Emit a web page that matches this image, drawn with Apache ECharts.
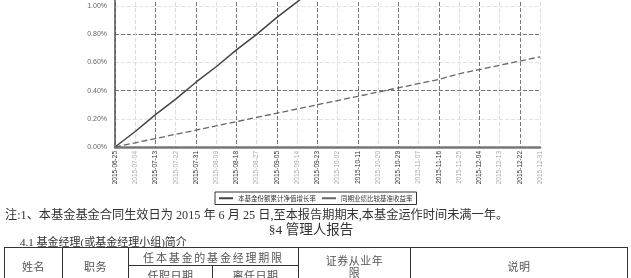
<!DOCTYPE html>
<html>
<head>
<meta charset="utf-8">
<script src="https://cdn.jsdelivr.net/npm/echarts@6/dist/echarts.min.js"></script>
<style>
  body { margin: 0; width: 631px; height: 278px; overflow: hidden; background: #fff;
    font-family: "Liberation Serif", "Noto Sans CJK SC", serif; color: #333; }
  #chart { position: absolute; left: 0; top: 0; width: 631px; height: 210px; }
  .txt { position: absolute; white-space: nowrap; }
  #note { left: 5px; top: 205px; font-size: 12.2px; }
  #sec { left: 0; width: 622px; text-align: center; top: 218px; font-size: 13.5px; }
  #sub { left: 20px; top: 233px; font-size: 11px; }
  #sub u { text-decoration: underline; }
  table { position: absolute; left: 4px; top: 247px; border-collapse: collapse;
    font-family: "Noto Sans CJK SC", sans-serif; font-size: 11px; color: #555; }
  td { border: 1px solid #333; text-align: center; padding: 0; height: 17px; line-height: 12px; letter-spacing: 0.5px; }
  td.wide { letter-spacing: 1.8px; }
</style>
</head>
<body>
<div id="chart"></div>
<div class="txt" id="note">注:1、本基金基金合同生效日为 2015 年 6 月 25 日,至本报告期期末,本基金运作时间未满一年。</div>
<div class="txt" id="sec">§4 管理人报告</div>
<div class="txt" id="sub">4.1 <u>基金经理(或基金经理小组)</u>简介</div>
<table>
  <tr>
    <td rowspan="2" style="width:57px">姓名</td>
    <td rowspan="2" style="width:65px">职务</td>
    <td colspan="2" class="wide">任本基金的基金经理期限</td>
    <td rowspan="2" style="width:111px">证券从业年<br>限</td>
    <td rowspan="2" style="width:216px">说明</td>
  </tr>
  <tr>
    <td style="width:83px">任职日期</td>
    <td style="width:85px">离任日期</td>
  </tr>
</table>
<script>
// 日期
const dates = ['2015-06-25', '2015-07-04', '2015-07-13', '2015-07-22', '2015-07-31', '2015-08-09',
  '2015-08-18', '2015-08-27', '2015-09-05', '2015-09-14', '2015-09-23', '2015-10-02',
  '2015-10-11', '2015-10-20', '2015-10-29', '2015-11-07', '2015-11-16', '2015-11-25',
  '2015-12-04', '2015-12-13', '2015-12-22', '2015-12-31'];
// 累计净值增长率 (%)
const fundValues = [0.00, 0.11, 0.23, 0.34, 0.46, 0.57, 0.69, 0.80, 0.92, 1.03, 1.15,
  1.26, 1.37, 1.49, 1.60, 1.71, 1.83, 1.94, 2.05, 2.17, 2.28, 2.39];
// 业绩比较基准收益率 (%)
const benchValues = [0.00, 0.03, 0.06, 0.09, 0.12, 0.15, 0.18, 0.21, 0.24, 0.27, 0.30,
  0.33, 0.36, 0.39, 0.42, 0.45, 0.48, 0.52, 0.55, 0.58, 0.61, 0.64];
const seriesNames = ['本基金份额累计净值增长率', '同期业绩比较基准收益率'];

const chart = echarts.init(document.getElementById('chart'));
chart.setOption({
  animation: false,
  grid: { left: 115, right: 91, top: -22, bottom: 63, outerBoundsMode: 'none', containLabel: false },
  legend: {
    data: seriesNames,
    left: 215, top: 192,
    itemWidth: 14, itemHeight: 2, itemGap: 6,
    padding: [3, 4],
    borderColor: '#333', borderWidth: 1,
    textStyle: { fontSize: 6.5, color: '#333', fontFamily: 'Noto Sans CJK SC' },
    icon: 'rect'
  },
  xAxis: {
    type: 'category',
    data: dates,
    boundaryGap: false,
    axisLine: { lineStyle: { color: '#777', width: 2.5 } },
    axisTick: { show: false },
    axisLabel: {
      rotate: 90, fontSize: 6.5, margin: 4, interval: 0,
      color: (v, i) => (i % 2 === 0 ? '#333' : '#aaa')
    },
    splitLine: { show: true, lineStyle: { type: 'dashed', width: 1, color: ['#777', '#ddd'] } }
  },
  yAxis: {
    type: 'value',
    min: 0, max: 1.2, interval: 0.2,
    axisLine: { show: true, lineStyle: { color: '#555', width: 1.5 } },
    axisTick: { show: false },
    axisLabel: { fontSize: 7, color: '#666', margin: 8, formatter: v => v.toFixed(2) + '%' },
    splitLine: { show: true, lineStyle: { type: 'dashed', width: 1, color: ['#777', '#e2e2e2'] } }
  },
  series: [
    {
      name: seriesNames[0], type: 'line', data: fundValues,
      symbol: 'none', lineStyle: { color: '#444', width: 1.5 }, itemStyle: { color: '#444' }
    },
    {
      name: seriesNames[1], type: 'line', data: benchValues,
      symbol: 'none', lineStyle: { color: '#666', width: 1.3, type: [6, 3] }, itemStyle: { color: '#666' }
    }
  ]
});
</script>
</body>
</html>
